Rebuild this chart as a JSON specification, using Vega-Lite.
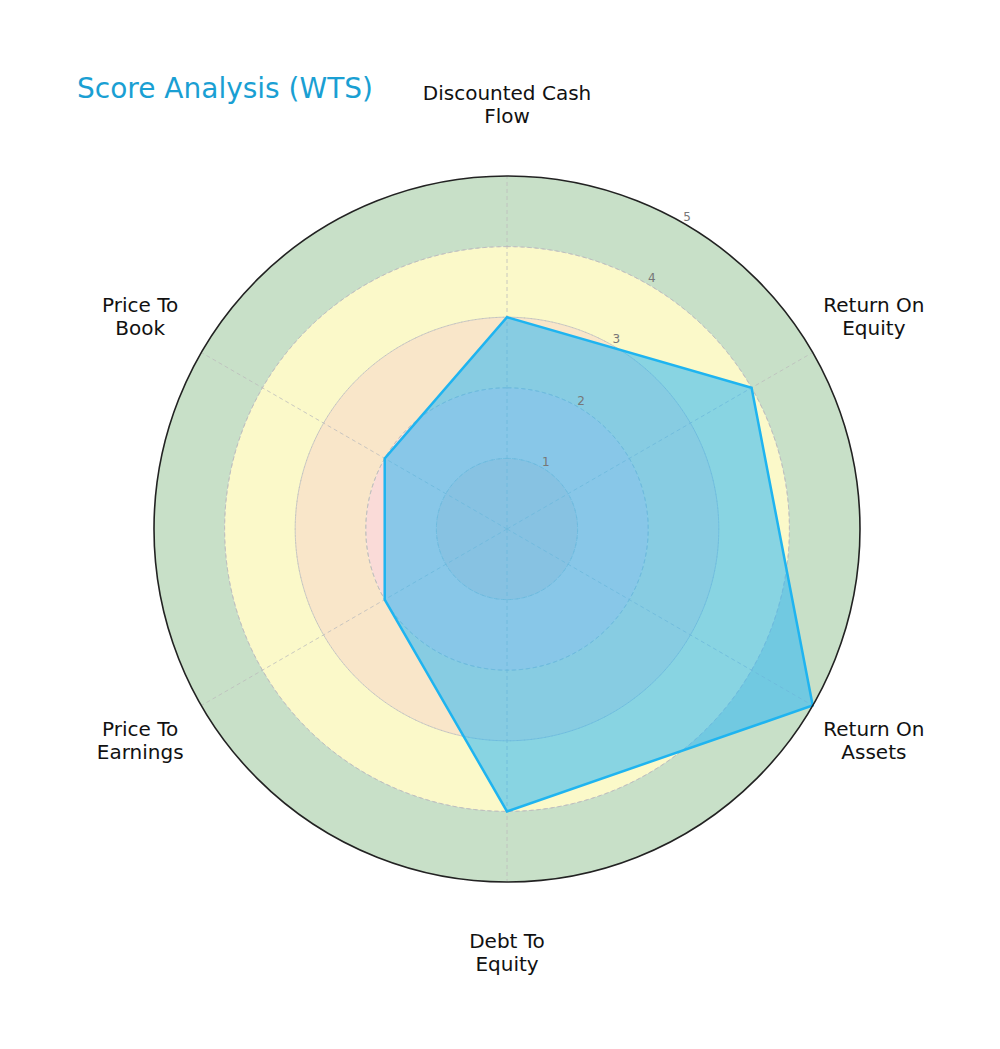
{
  "$schema": "https://vega.github.io/schema/vega-lite/v6.json",
  "description": "Score Analysis (WTS) radar chart",
  "width": 1000,
  "height": 911,
  "autosize": "none",
  "padding": {"top": 138, "left": 0, "right": 0, "bottom": 0},
  "background": "white",
  "title": {
    "text": "Score Analysis (WTS)",
    "anchor": "start",
    "frame": "group",
    "dx": 77,
    "offset": -20,
    "fontSize": 28,
    "fontWeight": "normal",
    "color": "#1a9fd3",
    "font": "DejaVu Sans"
  },
  "datasets": {
    "metrics": [
      {"metric": "Discounted Cash Flow", "label": "Discounted Cash\nFlow", "score": 3, "idx": 0},
      {"metric": "Return On Equity", "label": "Return On\nEquity", "score": 4, "idx": 1},
      {"metric": "Return On Assets", "label": "Return On\nAssets", "score": 5, "idx": 2},
      {"metric": "Debt To Equity", "label": "Debt To\nEquity", "score": 4, "idx": 3},
      {"metric": "Price To Earnings", "label": "Price To\nEarnings", "score": 2, "idx": 4},
      {"metric": "Price To Book", "label": "Price To\nBook", "score": 2, "idx": 5}
    ],
    "bands": [
      {"band": "0-1", "r0": 0, "r1": 1},
      {"band": "1-2", "r0": 1, "r1": 2},
      {"band": "2-3", "r0": 2, "r1": 3},
      {"band": "3-4", "r0": 3, "r1": 4},
      {"band": "4-5", "r0": 4, "r1": 5}
    ]
  },
  "layer": [
    {
      "data": {"name": "bands"},
      "mark": {"type": "arc", "theta": 0, "theta2": 6.2832},
      "encoding": {
        "x": {"datum": 0, "type": "quantitative", "scale": {"domain": [-7.1813, 6.983], "nice": false, "zero": false}, "axis": null},
        "y": {"datum": 0, "type": "quantitative", "scale": {"domain": [-7.3654, 5.5382], "nice": false, "zero": false}, "axis": null},
        "radius": {"field": "r1", "type": "quantitative", "scale": {"type": "linear", "domain": [0, 5], "range": [0, 353], "zero": true, "nice": false}},
        "radius2": {"field": "r0", "type": "quantitative"},
        "color": {
          "field": "band",
          "type": "nominal",
          "scale": {
            "domain": ["0-1", "1-2", "2-3", "3-4", "4-5"],
            "range": ["#f9d0cb", "#fadbd8", "#f9e6c9", "#fbf9c9", "#c8e0c8"]
          },
          "legend": null
        }
      }
    },
    {
      "data": {"name": "bands"},
      "transform": [{"filter": "datum.r1 < 5"}],
      "mark": {"type": "arc", "theta": 0, "theta2": 6.2832, "filled": false, "stroke": "#bdbdbd", "strokeWidth": 0.8, "strokeDash": [4, 3]},
      "encoding": {
        "x": {"datum": 0, "type": "quantitative", "scale": {"domain": [-7.1813, 6.983], "nice": false, "zero": false}, "axis": null},
        "y": {"datum": 0, "type": "quantitative", "scale": {"domain": [-7.3654, 5.5382], "nice": false, "zero": false}, "axis": null},
        "radius": {"field": "r1", "type": "quantitative", "scale": {"type": "linear", "domain": [0, 5], "range": [0, 353], "zero": true, "nice": false}},
        "radius2": {"field": "r1", "type": "quantitative"}
      }
    },
    {
      "data": {"name": "metrics"},
      "transform": [
        {"calculate": "datum.idx * PI / 3", "as": "angle"},
        {"calculate": "5 * sin(datum.angle)", "as": "sx"},
        {"calculate": "5 * cos(datum.angle)", "as": "sy"}
      ],
      "mark": {"type": "rule", "stroke": "#bdbdbd", "strokeWidth": 0.8, "strokeDash": [4, 3]},
      "encoding": {
        "x": {"datum": 0, "type": "quantitative", "scale": {"domain": [-7.1813, 6.983], "nice": false, "zero": false}, "axis": null},
        "y": {"datum": 0, "type": "quantitative", "scale": {"domain": [-7.3654, 5.5382], "nice": false, "zero": false}, "axis": null},
        "x2": {"field": "sx", "type": "quantitative"},
        "y2": {"field": "sy", "type": "quantitative"}
      }
    },
    {
      "data": {"name": "metrics"},
      "transform": [
        {"calculate": "datum.idx * PI / 3", "as": "angle"},
        {"calculate": "datum.score * sin(datum.angle)", "as": "px"},
        {"calculate": "datum.score * cos(datum.angle)", "as": "py"}
      ],
      "mark": {
        "type": "line",
        "interpolate": "linear-closed",
        "fill": "#29b6f6",
        "fillOpacity": 0.55,
        "stroke": "#1fb4f0",
        "strokeWidth": 2.5
      },
      "encoding": {
        "x": {"field": "px", "type": "quantitative", "scale": {"domain": [-7.1813, 6.983], "nice": false, "zero": false}, "axis": null},
        "y": {"field": "py", "type": "quantitative", "scale": {"domain": [-7.3654, 5.5382], "nice": false, "zero": false}, "axis": null},
        "order": {"field": "idx", "type": "quantitative"}
      }
    },
    {
      "data": {"values": [{"r": 5}]},
      "mark": {"type": "arc", "theta": 0, "theta2": 6.2832, "filled": false, "stroke": "#222222", "strokeWidth": 1.6},
      "encoding": {
        "x": {"datum": 0, "type": "quantitative", "scale": {"domain": [-7.1813, 6.983], "nice": false, "zero": false}, "axis": null},
        "y": {"datum": 0, "type": "quantitative", "scale": {"domain": [-7.3654, 5.5382], "nice": false, "zero": false}, "axis": null},
        "radius": {"field": "r", "type": "quantitative", "scale": {"type": "linear", "domain": [0, 5], "range": [0, 353], "zero": true, "nice": false}},
        "radius2": {"field": "r", "type": "quantitative"}
      }
    },
    {
      "data": {"name": "bands"},
      "transform": [
        {"calculate": "(datum.r1 + 0.1) * sin(PI / 6)", "as": "tx"},
        {"calculate": "(datum.r1 + 0.1) * cos(PI / 6)", "as": "ty"}
      ],
      "mark": {"type": "text", "align": "center", "baseline": "middle", "fontSize": 12, "color": "#777777", "font": "DejaVu Sans"},
      "encoding": {
        "x": {"field": "tx", "type": "quantitative", "scale": {"domain": [-7.1813, 6.983], "nice": false, "zero": false}, "axis": null},
        "y": {"field": "ty", "type": "quantitative", "scale": {"domain": [-7.3654, 5.5382], "nice": false, "zero": false}, "axis": null},
        "text": {"field": "r1", "type": "quantitative"}
      }
    },
    {
      "data": {"name": "metrics"},
      "transform": [
        {"calculate": "datum.idx * PI / 3", "as": "angle"},
        {"calculate": "6 * sin(datum.angle)", "as": "lx"},
        {"calculate": "6 * cos(datum.angle)", "as": "ly"}
      ],
      "mark": {"type": "text", "align": "center", "baseline": "middle", "dy": -11, "fontSize": 20, "color": "#111111", "font": "DejaVu Sans", "lineBreak": "\n", "lineHeight": 23},
      "encoding": {
        "x": {"field": "lx", "type": "quantitative", "scale": {"domain": [-7.1813, 6.983], "nice": false, "zero": false}, "axis": null},
        "y": {"field": "ly", "type": "quantitative", "scale": {"domain": [-7.3654, 5.5382], "nice": false, "zero": false}, "axis": null},
        "text": {"field": "label", "type": "nominal"}
      }
    }
  ],
  "config": {
    "view": {"stroke": null},
    "font": "DejaVu Sans"
  }
}
